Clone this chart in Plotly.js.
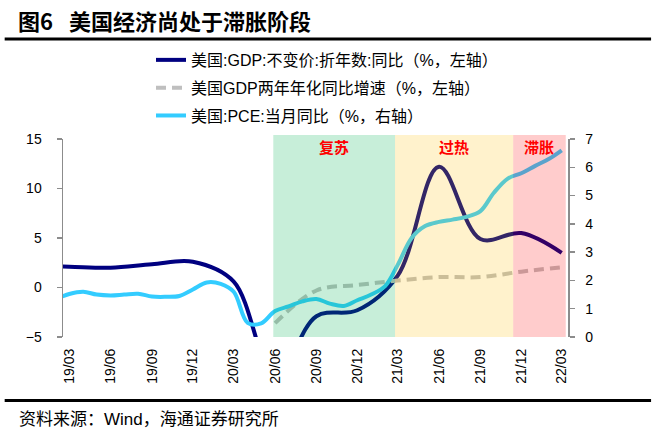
<!DOCTYPE html>
<html><head><meta charset="utf-8">
<script src="https://cdn.plot.ly/plotly-3.0.1.min.js"></script>
<style>html,body{margin:0;padding:0;background:#fff;} #chart{width:657px;height:431px;}</style>
</head><body><div id="chart"></div>
<script>
// ---- data ----
const gdpDates = ['2018-12-15','2019-03-15','2019-06-15','2019-09-15','2019-12-15','2020-03-15','2020-06-15','2020-09-15','2020-12-15','2021-03-15','2021-06-15','2021-09-15','2021-12-15','2022-03-15'];
const gdpValues = [2.2, 2.1, 2.0, 2.35, 2.6, 0.6, -9.1, -2.9, -2.3, 1.2, 12.2, 4.9, 5.5, 3.5];

const gdp2yDates = ['2020-06-15','2020-09-15','2020-12-15','2021-03-15','2021-06-15','2021-09-15','2021-12-15','2022-03-15'];
const gdp2yValues = [-3.6, -0.3, 0.25, 0.7, 1.05, 1.05, 1.6, 2.05];

const pceDates = ['2019-02-15','2019-03-15','2019-04-15','2019-05-15','2019-06-15','2019-07-15','2019-08-15','2019-09-15','2019-10-15','2019-11-15','2019-12-15',
  '2020-01-15','2020-02-15','2020-03-15','2020-04-15','2020-05-15','2020-06-15','2020-07-15','2020-08-15','2020-09-15','2020-10-15','2020-11-15','2020-12-15',
  '2021-01-15','2021-02-15','2021-03-15','2021-04-15','2021-05-15','2021-06-15','2021-07-15','2021-08-15','2021-09-15','2021-10-15','2021-11-15','2021-12-15',
  '2022-01-15','2022-02-15','2022-03-15'];
const pceValues = [1.35, 1.52, 1.6, 1.5, 1.47, 1.5, 1.53, 1.43, 1.42, 1.45, 1.68,
  1.93, 1.88, 1.6, 0.5, 0.48, 0.92, 1.08, 1.26, 1.34, 1.18, 1.1, 1.3,
  1.5, 1.8, 2.55, 3.5, 3.92, 4.07, 4.15, 4.25, 4.45, 5.1, 5.6, 5.79,
  6.05, 6.3, 6.6];

const tickLabels = ['19/03','19/06','19/09','19/12','20/03','20/06','20/09','20/12','21/03','21/06','21/09','21/12','22/03'];
const tickLabelDates = ['2019-03-15','2019-06-15','2019-09-15','2019-12-15','2020-03-15','2020-06-15','2020-09-15','2020-12-15','2021-03-15','2021-06-15','2021-09-15','2021-12-15','2022-03-15'];
const tickMarkDates = ['2019-03-01','2019-06-01','2019-09-01','2019-12-01','2020-03-01','2020-06-01','2020-09-01','2020-12-01','2021-03-01','2021-06-01','2021-09-01','2021-12-01','2022-03-01'];

const phaseNames = ['复苏','过热','滞胀'];
const phaseStarts = ['2020-06-11','2021-03-09','2021-11-27'];
const phaseEnds = ['2021-03-09','2021-11-27','2022-03-24'];
const phaseColors = ['rgba(0,176,80,0.22)','rgba(255,192,0,0.2)','rgba(255,0,0,0.2)'];

const seriesNames = ['美国:GDP:不变价:折年数:同比（%，左轴）','美国GDP两年年化同比增速（%，左轴）','美国:PCE:当月同比（%，右轴）'];
const xRange = ['2019-03-01','2022-03-29'];

// ---- chart ----
const axisGray = '#8c8c8c';
const traces = [
  {x: gdpDates, y: gdpValues, name: seriesNames[0], type:'scatter', mode:'lines', legendgroup:'a',
   line:{color:'#000080', width:4, shape:'spline', smoothing:1}, xaxis:'x', yaxis:'y'},
  {x: gdp2yDates, y: gdp2yValues, name: seriesNames[1], type:'scatter', mode:'lines', legendgroup:'b',
   line:{color:'#bfbfbf', width:4, dash:'10px,6px', shape:'spline', smoothing:1}, xaxis:'x', yaxis:'y'},
  {x: pceDates, y: pceValues, name: seriesNames[2], type:'scatter', mode:'lines', legendgroup:'c',
   line:{color:'#33ccff', width:4, shape:'spline', smoothing:1}, xaxis:'x', yaxis:'y2'}
];

function midDate(a, b){
  const t = (new Date(a).getTime() + new Date(b).getTime())/2;
  return new Date(t).toISOString().slice(0,10);
}

const shapes = phaseNames.map((n,i)=>({
  type:'rect', xref:'x', yref:'paper', x0:phaseStarts[i], x1:phaseEnds[i], y0:0, y1:1.02,
  fillcolor:phaseColors[i], line:{width:0}, layer:'above'
}));
shapes.push({type:'line', xref:'paper', yref:'paper', x0:-0.1155, x1:1.1645, y0:1.5056, y1:1.5056, line:{color:'#000', width:3}});
shapes.push({type:'line', xref:'paper', yref:'paper', x0:-0.1155, x1:1.1645, y0:-0.3207, y1:-0.3207, line:{color:'#000', width:3}});

const annotations = phaseNames.map((n,i)=>({
  xref:'x', yref:'paper', x:midDate(phaseStarts[i], phaseEnds[i]), y:0.962, text:n, showarrow:false,
  xanchor:'center', yanchor:'middle', font:{family:'Noto Sans CJK SC', size:15, color:'#ff0000', weight:700}
}));
annotations.push({xref:'paper', yref:'paper', x:(17-63)/505, y:-0.417, xanchor:'left', yanchor:'middle', showarrow:false,
  text:'资料来源：Wind，海通证券研究所', font:{family:'Liberation Sans, Noto Sans CJK SC', size:17, color:'#000'}});

const layout = {
  width:657, height:431,
  margin:{l:63, r:89, t:139, b:94, pad:0},
  paper_bgcolor:'#ffffff', plot_bgcolor:'rgba(0,0,0,0)',
  font:{family:'Liberation Sans, Arial, Noto Sans CJK SC, sans-serif', size:14, color:'#000'},
  title:{text:'图6\u2002\u00a0美国经济尚处于滞胀阶段', xref:'container', yref:'container', x:18/657, xanchor:'left', y:1-22/431, yanchor:'middle',
    font:{family:'Noto Sans CJK SC', size:22, color:'#000', weight:700}},
  showlegend:true,
  legend:{x:(151-63)/505, y:1.485, xanchor:'left', yanchor:'top', orientation:'v', tracegroupgap:4,
    bgcolor:'rgba(0,0,0,0)', font:{family:'Liberation Sans, Noto Sans CJK SC', size:16, color:'#000'}},
  xaxis:{type:'date', range:xRange, tickmode:'array', tickvals:tickLabelDates, ticktext:tickLabels, tickangle:-90,
    ticks:'', showline:false, showgrid:false, zeroline:false, ticklabelstandoff:8, tickfont:{size:14, color:'#000'}},
  xaxis2:{type:'date', range:xRange, overlaying:'x', anchor:'free', position:0.25, side:'bottom',
    tickmode:'array', tickvals:tickMarkDates, showticklabels:false, ticks:'outside', ticklen:5, tickwidth:1.5, tickcolor:axisGray,
    showline:true, linecolor:axisGray, linewidth:1.5, showgrid:false, zeroline:false},
  yaxis:{range:[-5,15], tickmode:'linear', tick0:-5, dtick:5, ticks:'outside', ticklen:5, tickwidth:1.5, tickcolor:axisGray,
    showline:true, linecolor:axisGray, linewidth:1.5, showgrid:false, zeroline:false, ticklabelstandoff:12, tickfont:{size:14, color:'#000'}},
  yaxis2:{range:[0,7], overlaying:'y', side:'right', tickmode:'linear', tick0:0, dtick:1, ticks:'outside', ticklen:5, tickwidth:1.5, tickcolor:axisGray,
    showline:true, linecolor:axisGray, linewidth:1.5, showgrid:false, zeroline:false, ticklabelstandoff:8, tickfont:{size:14, color:'#000'}},
  shapes:shapes,
  annotations:annotations
};

Plotly.newPlot('chart', traces, layout, {displayModeBar:false, staticPlot:true});
</script>
</body></html>
